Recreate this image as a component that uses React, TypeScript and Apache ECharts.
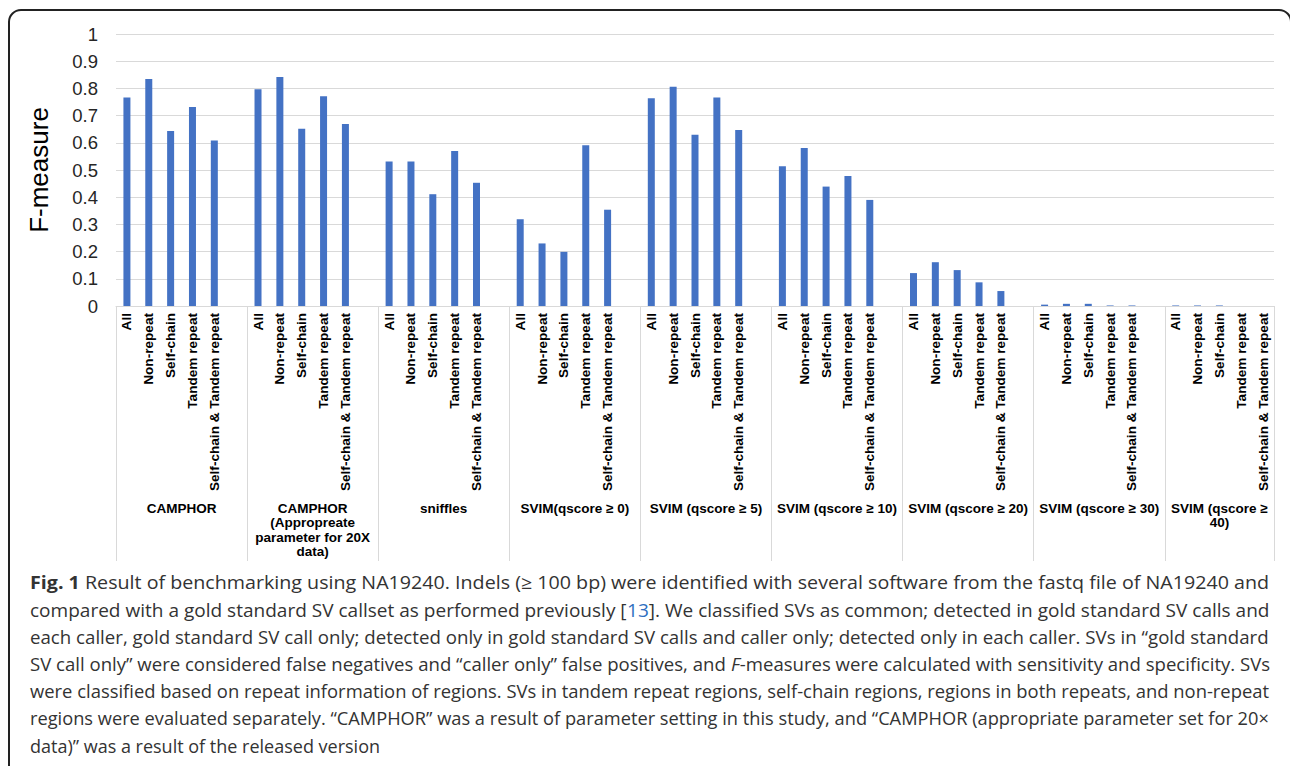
import React, { useEffect, useRef } from "react";
import * as echarts from "echarts";

const groupLabels = [
  "CAMPHOR",
  "CAMPHOR\n(Appropreate\nparameter for 20X\ndata)",
  "sniffles",
  "SVIM(qscore ≥ 0)",
  "SVIM (qscore ≥ 5)",
  "SVIM (qscore ≥ 10)",
  "SVIM (qscore ≥ 20)",
  "SVIM (qscore ≥ 30)",
  "SVIM (qscore ≥\n40)",
];
const regionLabels = ["All", "Non-repeat", "Self-chain", "Tandem repeat", "Self-chain & Tandem repeat"];

const camphor = [0.767, 0.835, 0.643, 0.732, 0.608];
const camphor20x = [0.797, 0.842, 0.652, 0.771, 0.669];
const sniffles = [0.531, 0.531, 0.411, 0.57, 0.453];
const svimQ0 = [0.319, 0.23, 0.199, 0.591, 0.354];
const svimQ5 = [0.764, 0.806, 0.63, 0.767, 0.647];
const svimQ10 = [0.514, 0.581, 0.439, 0.478, 0.39];
const svimQ20 = [0.121, 0.161, 0.132, 0.087, 0.055];
const svimQ30 = [0.005, 0.008, 0.008, 0.002, 0.002];
const svimQ40 = [0.002, 0.002, 0.002, 0.0, 0.0];
const groupValues = [camphor, camphor20x, sniffles, svimQ0, svimQ5, svimQ10, svimQ20, svimQ30, svimQ40];

const yMin = 0;
const yMax = 1;
const yInterval = 0.1;

const captionLines = [
  "{b|Fig. 1} Result of benchmarking using NA19240. Indels (≥ 100 bp) were identified with several software from the fastq file of NA19240 and",
  "compared with a gold standard SV callset as performed previously [{blue|13}]. We classified SVs as common; detected in gold standard SV calls and",
  "each caller, gold standard SV call only; detected only in gold standard SV calls and caller only; detected only in each caller. SVs in “gold standard",
  "SV call only” were considered false negatives and “caller only” false positives, and {i|F}-measures were calculated with sensitivity and specificity. SVs",
  "were classified based on repeat information of regions. SVs in tandem repeat regions, self-chain regions, regions in both repeats, and non-repeat",
  "regions were evaluated separately. “CAMPHOR” was a result of parameter setting in this study, and “CAMPHOR (appropriate parameter set for 20×",
  "data)” was a result of the released version",
];

// Build flat category list: 5 regions per group + one blank spacer between groups
const categories: string[] = [];
const values: (number | null)[] = [];
const groupStart: number[] = [];
groupLabels.forEach((g, gi) => {
  groupStart.push(categories.length);
  regionLabels.forEach((r, ri) => {
    categories.push(`g${gi}:${r}`);
    values.push(groupValues[gi][ri]);
  });
  if (gi < groupLabels.length - 1) {
    categories.push(`g${gi}:`);
    values.push(null);
  }
});

const CAP_FONT = '"Open Sans", sans-serif';
const CAP_SIZE = 18;
const CAP_LEFT = 30;
const CAP_RIGHT = 1270;

function measureRich(line: string): number {
  const canvas = document.createElement("canvas");
  const ctx = canvas.getContext("2d");
  if (!ctx) return 0;
  let total = 0;
  const re = /\{(\w+)\|([^}]*)\}/g;
  let last = 0;
  let m: RegExpExecArray | null;
  const seg = (txt: string, style: string) => {
    let f = `${CAP_SIZE}px ${CAP_FONT}`;
    if (style === "b") f = `bold ${CAP_SIZE}px ${CAP_FONT}`;
    if (style === "i") f = `italic ${CAP_SIZE}px ${CAP_FONT}`;
    ctx.font = f;
    total += ctx.measureText(txt).width;
  };
  while ((m = re.exec(line))) {
    seg(line.slice(last, m.index), "");
    seg(m[2], m[1]);
    last = m.index + m[0].length;
  }
  seg(line.slice(last), "");
  return total;
}

export default function App() {
  const ref = useRef<HTMLDivElement>(null);
  useEffect(() => {
    if (!ref.current) return;
    const chart = echarts.init(ref.current, undefined, { renderer: "svg" });
    const font = "Liberation Sans, Arial, sans-serif";
    chart.setOption({
      animation: false,
      backgroundColor: "#ffffff",
      grid: { left: 116, right: 16, top: 34, bottom: 460, containLabel: false },
      xAxis: {
        type: "category",
        data: categories,
        boundaryGap: true,
        axisLine: { show: true, lineStyle: { color: "#d9d9d9", width: 1 } },
        axisTick: {
          show: true,
          interval: (i: number) => i % 6 === 0,
          length: 255,
          lineStyle: { color: "#d9d9d9", width: 1 },
        },
        axisLabel: {
          interval: 0,
          rotate: 90,
          margin: 7,
          fontSize: 13.6,
          fontWeight: "bold",
          fontFamily: font,
          color: "#000000",
          formatter: (v: string) => v.split(":")[1],
        },
        splitLine: { show: false },
      },
      yAxis: {
        type: "value",
        min: yMin,
        max: yMax,
        interval: yInterval,
        name: "F-measure",
        nameLocation: "middle",
        nameRotate: 90,
        nameGap: 64,
        nameTextStyle: { fontSize: 26, fontFamily: font, color: "#000000" },
        axisLine: { show: false },
        axisTick: { show: false },
        axisLabel: {
          fontSize: 18.5,
          fontFamily: font,
          color: "#262626",
          margin: 18,
          formatter: (v: number) => String(Math.round(v * 10) / 10),
        },
        splitLine: { show: true, lineStyle: { color: "#d9d9d9", width: 1 } },
      },
      series: [
        {
          type: "bar",
          data: values,
          barWidth: 7,
          itemStyle: { color: "#4472C4" },
        },
      ],
    });

    const px = (i: number) => chart.convertToPixel({ xAxisIndex: 0 }, i) as number;
    const graphics: any[] = [];
    groupLabels.forEach((g, gi) => {
      const s = groupStart[gi];
      const n = gi < groupLabels.length - 1 ? 6 : 5;
      const cx = (px(s) + px(s + n - 1)) / 2;
      graphics.push({
        type: "text",
        x: cx,
        y: 501,
        style: {
          text: g,
          fontSize: 13.5,
          fontWeight: "bold",
          fontFamily: font,
          fill: "#000000",
          align: "center",
          verticalAlign: "top",
          lineHeight: 14.5,
        },
      });
    });
    captionLines.forEach((t, li) => {
      const isLast = li === captionLines.length - 1;
      const w = measureRich(t);
      const sx = !isLast && w > 0 ? (CAP_RIGHT - CAP_LEFT) / w : 1;
      graphics.push({
        type: "text",
        x: CAP_LEFT,
        y: 582 + li * 27.3,
        scaleX: sx,
        style: {
          text: t,
          fontSize: CAP_SIZE,
          fontFamily: CAP_FONT,
          fill: "#333333",
          align: "left",
          verticalAlign: "middle",
          rich: {
            b: { fontWeight: "bold", fontSize: CAP_SIZE, fontFamily: CAP_FONT, fill: "#333333" },
            blue: { fill: "#2f6fc0", fontSize: CAP_SIZE, fontFamily: CAP_FONT },
            i: { fontStyle: "italic", fontSize: CAP_SIZE, fontFamily: CAP_FONT, fill: "#333333" },
          },
        },
      });
    });
    graphics.push({
      type: "rect",
      shape: { x: 9, y: 10, width: 1282, height: 780, r: 12 },
      style: { fill: "none", stroke: "#222222", lineWidth: 2 },
      silent: true,
    });
    chart.setOption({ graphic: graphics });
    return () => chart.dispose();
  }, []);
  return (
    <div
      ref={ref}
      style={{ position: "fixed", left: 0, top: 0, width: 1290, height: 766, background: "#fff" }}
    />
  );
}
